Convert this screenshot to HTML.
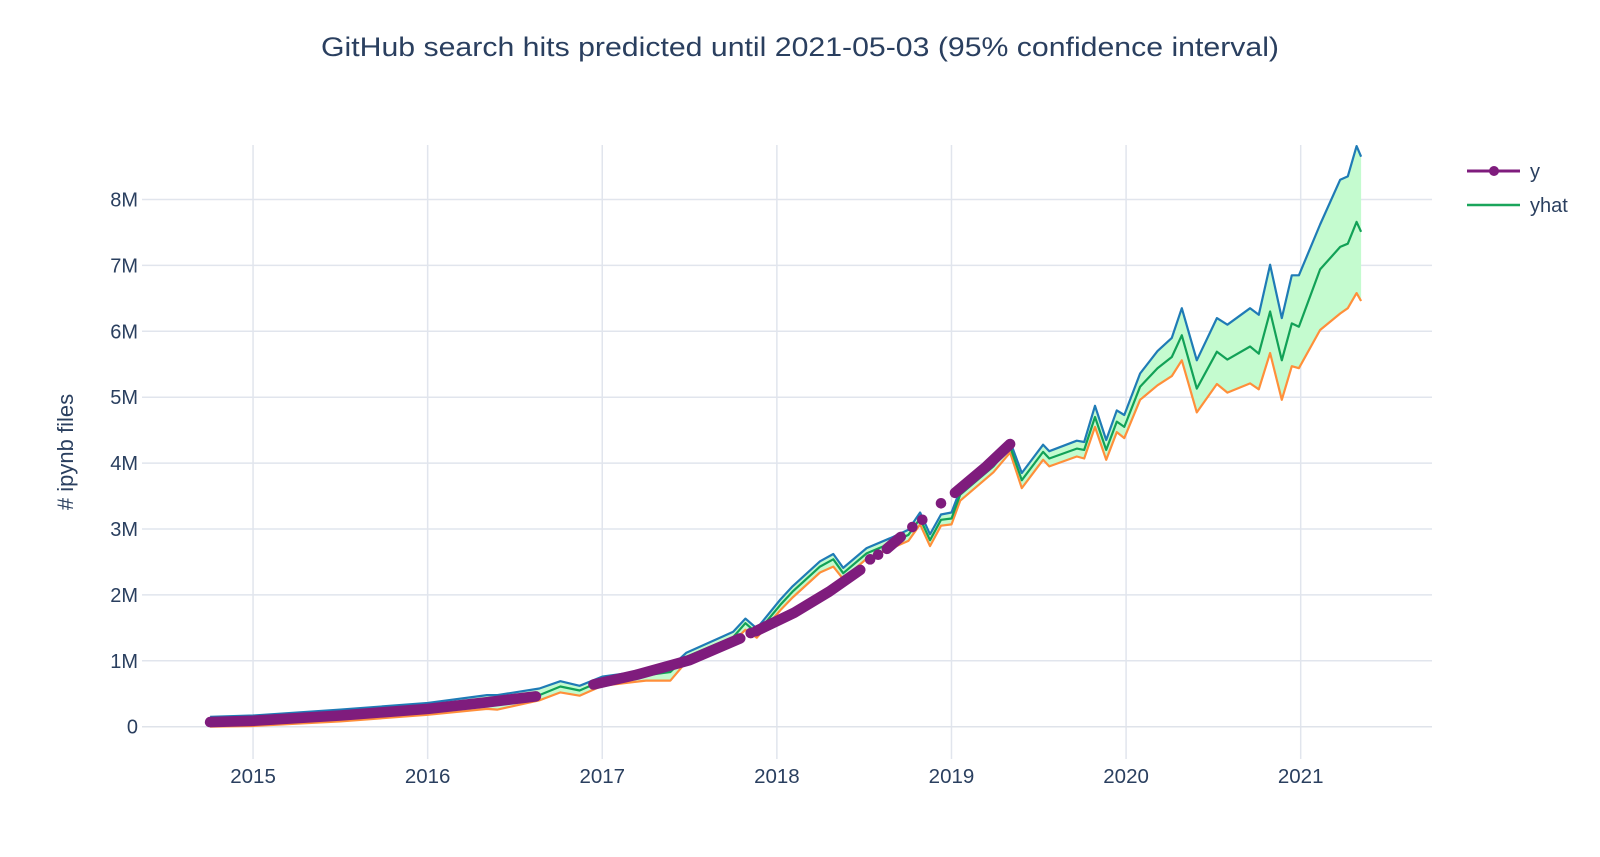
<!DOCTYPE html>
<html><head><meta charset="utf-8"><style>
html,body{margin:0;padding:0;background:#fff;}
svg{display:block;font-family:"Liberation Sans",sans-serif;}
</style></head><body>
<svg id="chart" width="1600" height="857" viewBox="0 0 1600 857" xmlns="http://www.w3.org/2000/svg">
<rect x="0" y="0" width="1600" height="857" fill="#fff"/>
<text x="800" y="56" text-anchor="middle" font-size="27" fill="#2a3f5f" textLength="958" lengthAdjust="spacingAndGlyphs">GitHub search hits predicted until 2021-05-03 (95% confidence interval)</text>
<g id="grid"></g>
<g id="plot"></g>
<g id="axes"></g>
<text transform="translate(73,452) rotate(-90)" text-anchor="middle" font-size="22" fill="#2a3f5f"># ipynb files</text>
<g>
  <g>
    <line x1="1467" y1="171" x2="1520" y2="171" stroke="#7f1c7d" stroke-width="3"/>
    <circle cx="1494" cy="171" r="5" fill="#7f1c7d"/>
    <text x="1530" y="178" font-size="20" fill="#2a3f5f">y</text>
  </g>
  <g>
    <line x1="1467" y1="205" x2="1520" y2="205" stroke="#1aa55b" stroke-width="2.5"/>
    <text x="1530" y="212" font-size="20" fill="#2a3f5f">yhat</text>
  </g>
</g>
</svg>
<script>
const xTickYears = [2015, 2016, 2017, 2018, 2019, 2020, 2021];
const yTickValues = [0, 1, 2, 3, 4, 5, 6, 7, 8];
const yTickLabels = ["0", "1M", "2M", "3M", "4M", "5M", "6M", "7M", "8M"];

const fcDates = [2014.754,2015.0,2015.5,2016.0,2016.34,2016.40,2016.64,2016.76,2016.87,2017.0,2017.25,2017.39,2017.48,2017.75,2017.82,2017.885,2018.02,2018.09,2018.247,2018.323,2018.38,2018.514,2018.666,2018.753,2018.82,2018.877,2018.94,2019.0,2019.05,2019.24,2019.336,2019.403,2019.525,2019.56,2019.718,2019.76,2019.822,2019.886,2019.947,2019.99,2020.08,2020.18,2020.262,2020.319,2020.405,2020.52,2020.58,2020.71,2020.76,2020.825,2020.892,2020.949,2020.99,2021.111,2021.226,2021.27,2021.32,2021.346];
const yhatValues = [0.08,0.10,0.18,0.29,0.41,0.40,0.48,0.61,0.55,0.70,0.78,0.83,1.06,1.36,1.57,1.42,1.85,2.05,2.43,2.54,2.33,2.63,2.80,2.91,3.16,2.83,3.14,3.16,3.52,3.95,4.25,3.74,4.17,4.07,4.22,4.20,4.70,4.20,4.63,4.55,5.16,5.44,5.61,5.94,5.13,5.69,5.57,5.77,5.66,6.30,5.56,6.12,6.07,6.94,7.28,7.33,7.66,7.51];
const upperValues = [0.15,0.17,0.26,0.36,0.48,0.48,0.58,0.69,0.62,0.76,0.85,0.90,1.12,1.44,1.64,1.49,1.93,2.13,2.51,2.62,2.41,2.71,2.88,2.99,3.25,2.92,3.22,3.25,3.60,4.03,4.33,3.85,4.28,4.18,4.34,4.32,4.87,4.35,4.80,4.73,5.36,5.70,5.90,6.35,5.56,6.20,6.10,6.35,6.25,7.01,6.20,6.85,6.85,7.62,8.30,8.35,8.81,8.65];
const lowerValues = [0.00,0.01,0.08,0.18,0.27,0.26,0.40,0.52,0.47,0.62,0.70,0.70,0.98,1.29,1.47,1.35,1.77,1.96,2.34,2.43,2.24,2.55,2.72,2.82,3.07,2.74,3.05,3.07,3.43,3.86,4.16,3.62,4.05,3.95,4.10,4.07,4.55,4.05,4.47,4.38,4.96,5.18,5.32,5.56,4.77,5.20,5.07,5.21,5.12,5.67,4.96,5.47,5.44,6.02,6.27,6.35,6.58,6.46];

// observed y: segments separated by null
const obsDates = [2014.754,2015.0,2015.5,2016.0,2016.34,2016.62,null,2016.95,2017.2,2017.5,2017.79,null,2017.85,null,2017.88,2018.1,2018.3,2018.477,null,2018.534,null,2018.58,null,2018.63,2018.71,null,2018.776,null,2018.833,null,2018.94,null,2019.02,2019.2,2019.336];
const obsValues = [0.07,0.09,0.17,0.27,0.37,0.46,null,0.64,0.79,1.01,1.34,null,1.42,null,1.45,1.73,2.05,2.38,null,2.54,null,2.61,null,2.70,2.88,null,3.03,null,3.14,null,3.39,null,3.55,3.95,4.29];

const X0 = 2014.364, X1 = 2021.752, PX0 = 142, PX1 = 1432;
const Y0 = -0.49, Y1 = 8.827, PY0 = 759, PY1 = 145;
function xs(v){ return PX0 + (v - X0) / (X1 - X0) * (PX1 - PX0); }
function ys(v){ return PY0 - (v - Y0) / (Y1 - Y0) * (PY0 - PY1); }
const NS = "http://www.w3.org/2000/svg";
function mk(tag, parent){ const e = document.createElementNS(NS, tag); parent.appendChild(e); return e; }

const grid = document.getElementById('grid');
const axes = document.getElementById('axes');
const plot = document.getElementById('plot');

xTickYears.forEach(function(yr){
  const gl = mk('line', grid);
  
  
  gl.setAttribute('x1', xs(yr)); gl.setAttribute('x2', xs(yr));
  gl.setAttribute('y1', PY1); gl.setAttribute('y2', PY0);
  gl.setAttribute('stroke', '#e1e5ed'); gl.setAttribute('stroke-width', '1.5');
  const t = mk('text', axes);
  
  
  t.setAttribute('x', xs(yr)); t.setAttribute('y', 783);
  t.setAttribute('text-anchor', 'middle'); t.setAttribute('font-size', '20.5'); t.setAttribute('fill', '#2a3f5f');
  t.textContent = String(yr);
});
yTickValues.forEach(function(v, i){
  const gl = mk('line', grid);
  
  
  gl.setAttribute('x1', PX0); gl.setAttribute('x2', PX1);
  gl.setAttribute('y1', ys(v)); gl.setAttribute('y2', ys(v));
  gl.setAttribute('stroke', v === 0 ? '#dfe3ea' : '#e1e5ed'); gl.setAttribute('stroke-width', '1.5');
  const t = mk('text', axes);
  
  
  t.setAttribute('x', 138); t.setAttribute('y', ys(v) + 7);
  t.setAttribute('text-anchor', 'end'); t.setAttribute('font-size', '20'); t.setAttribute('fill', '#2a3f5f');
  t.textContent = yTickLabels[i];
});

// confidence band fill
let bandPts = fcDates.map(function(d, i){ return xs(d).toFixed(1) + ',' + ys(upperValues[i]).toFixed(1); });
for (let i = fcDates.length - 1; i >= 0; i--) bandPts.push(xs(fcDates[i]).toFixed(1) + ',' + ys(lowerValues[i]).toFixed(1));
const band = mk('polygon', plot);


band.setAttribute('points', bandPts.join(' '));
band.setAttribute('fill', '#c4fbcf');

function linePath(vals, color, name){
  const p = mk('polyline', plot);
  
  
  p.setAttribute('points', fcDates.map(function(d, i){ return xs(d).toFixed(1) + ',' + ys(vals[i]).toFixed(1); }).join(' '));
  p.setAttribute('fill', 'none'); p.setAttribute('stroke', color); p.setAttribute('stroke-width', '2.2');
  p.setAttribute('stroke-linejoin', 'round');
}
linePath(upperValues, '#1f7bb6', 'yhat-upper-line');
linePath(lowerValues, '#ff8f3a', 'yhat-lower-line');
linePath(yhatValues, '#12a157', 'yhat-line');

// observed series
let seg = [];
function flush(){
  if (seg.length === 1) {
    const c = mk('circle', plot);
    
    
    c.setAttribute('cx', seg[0][0]); c.setAttribute('cy', seg[0][1]);
    c.setAttribute('r', 5.3); c.setAttribute('fill', '#7f1c7d');
  } else if (seg.length > 1) {
    const p = mk('polyline', plot);
    
    
    p.setAttribute('points', seg.map(function(q){ return q[0].toFixed(1) + ',' + q[1].toFixed(1); }).join(' '));
    p.setAttribute('fill', 'none'); p.setAttribute('stroke', '#7f1c7d'); p.setAttribute('stroke-width', '10.6');
    p.setAttribute('stroke-linecap', 'round'); p.setAttribute('stroke-linejoin', 'round');
  }
  seg = [];
}
obsDates.forEach(function(d, i){
  if (d === null) { flush(); return; }
  seg.push([xs(d), ys(obsValues[i])]);
});
flush();
</script>
</body></html>
